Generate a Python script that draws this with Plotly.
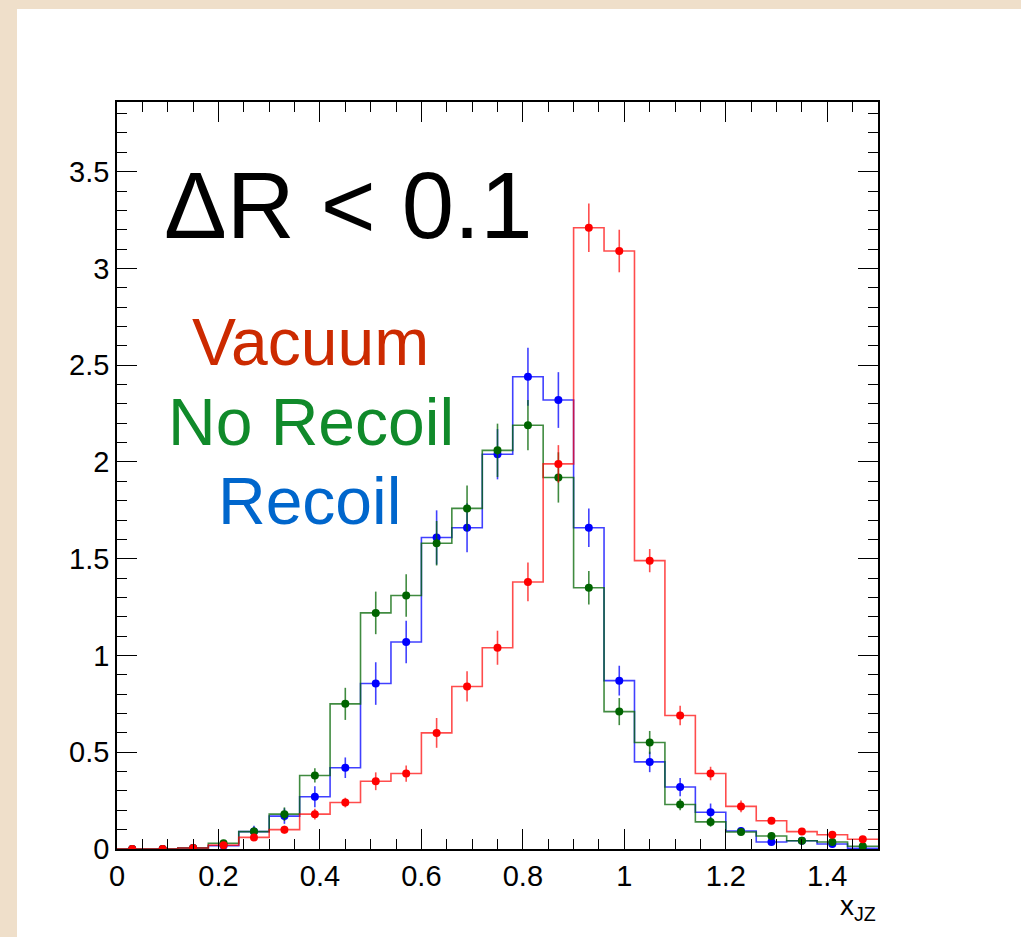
import plotly.graph_objects as go

# ---- data ----
bin_low = 0.0
bin_width = 0.06
n_bins = 25

vacuum = [0.0, 0.0, 0.005, 0.02, 0.06, 0.10, 0.18, 0.24, 0.35, 0.39, 0.60, 0.84, 1.04,
          1.38, 1.99, 3.21, 3.09, 1.49, 0.69, 0.39, 0.22, 0.146, 0.09, 0.074, 0.05]
vacuum_err = [0, 0, 0.004, 0.008, 0.015, 0.02, 0.028, 0.025, 0.046, 0.042, 0.077, 0.078, 0.088,
              0.10, 0.097, 0.125, 0.11, 0.06, 0.05, 0.035, 0.03, 0.015, 0.012, 0.01, 0.01]

recoil = [0.0, 0.0, 0.005, 0.017, 0.09, 0.17, 0.27, 0.42, 0.855, 1.07, 1.61, 1.66, 2.04,
          2.44, 2.32, 1.66, 0.87, 0.45, 0.32, 0.19, 0.093, 0.036, 0.043, 0.026, 0.004]
recoil_err = [0, 0, 0.004, 0.01, 0.03, 0.04, 0.054, 0.053, 0.11, 0.11, 0.14, 0.127, 0.13,
              0.15, 0.144, 0.10, 0.077, 0.053, 0.047, 0.045, 0.02, 0.015, 0.015, 0.012, 0.006]

norecoil = [0.0, 0.0, 0.005, 0.03, 0.09, 0.18, 0.38, 0.75, 1.22, 1.31, 1.58, 1.76, 2.06,
            2.19, 1.92, 1.35, 0.71, 0.55, 0.23, 0.14, 0.088, 0.067, 0.043, 0.036, 0.014]
norecoil_err = [0, 0, 0.004, 0.01, 0.025, 0.035, 0.037, 0.083, 0.11, 0.11, 0.115, 0.118, 0.138,
                0.13, 0.13, 0.086, 0.07, 0.06, 0.03, 0.025, 0.015, 0.012, 0.01, 0.01, 0.008]

x_ticks = [0, 0.2, 0.4, 0.6, 0.8, 1.0, 1.2, 1.4]
x_ticklabels = ["0", "0.2", "0.4", "0.6", "0.8", "1", "1.2", "1.4"]
y_ticks = [0, 0.5, 1, 1.5, 2, 2.5, 3, 3.5]
y_ticklabels = ["0", "0.5", "1", "1.5", "2", "2.5", "3", "3.5"]

# ---- derived bins ----
edges = [bin_low + i * bin_width for i in range(n_bins + 1)]
centers = [bin_low + (i + 0.5) * bin_width for i in range(n_bins)]

series = [
    ("Recoil", recoil, recoil_err, "rgba(0,0,255,0.75)", "#0000ff"),
    ("No Recoil", norecoil, norecoil_err, "rgba(0,100,0,0.75)", "#006400"),
    ("Vacuum", vacuum, vacuum_err, "rgba(255,0,0,0.7)", "#ff0000"),
]

fig = go.Figure()
for name, vals, errs, lcol, mcol in series:
    fig.add_trace(go.Scatter(
        x=edges, y=list(vals) + [vals[-1]], mode="lines", line_shape="hv",
        line=dict(color=lcol, width=1.6), showlegend=False, hoverinfo="skip"))
    fig.add_trace(go.Scatter(
        x=centers, y=vals, mode="markers", name=name,
        marker=dict(color=mcol, size=8, symbol="circle"),
        error_y=dict(type="data", array=errs, visible=True, width=0,
                     thickness=1.6, color=lcol),
        showlegend=False))

# plot area in pixels: x 117..878, y 102..849
L, R, T, B = 117, 878, 102, 849
W, H = 1021, 937
pw, ph = R - L, B - T

def px2paper_x(px):
    return (px - L) / pw

def px2paper_y(py):
    return (B - py) / ph

# white panel over beige background
fig.add_shape(type="rect", xref="paper", yref="paper",
              x0=px2paper_x(17), x1=px2paper_x(W + 5),
              y0=px2paper_y(H + 5), y1=px2paper_y(9),
              fillcolor="white", line=dict(width=0), layer="below")

big_font = "Liberation Sans, Arial, Helvetica, sans-serif"
fig.add_annotation(x=px2paper_x(348), y=px2paper_y(205), xref="paper", yref="paper",
                   text="ΔR &lt; 0.1", showarrow=False, xanchor="center", yanchor="middle",
                   font=dict(family=big_font, size=94, color="black"))
fig.add_annotation(x=px2paper_x(310), y=px2paper_y(342), xref="paper", yref="paper",
                   text="Vacuum", showarrow=False, xanchor="center", yanchor="middle",
                   font=dict(family=big_font, size=66, color="#cc2a00"))
fig.add_annotation(x=px2paper_x(311), y=px2paper_y(422), xref="paper", yref="paper",
                   text="No Recoil", showarrow=False, xanchor="center", yanchor="middle",
                   font=dict(family=big_font, size=66, color="#108a2a"))
fig.add_annotation(x=px2paper_x(309), y=px2paper_y(501), xref="paper", yref="paper",
                   text="Recoil", showarrow=False, xanchor="center", yanchor="middle",
                   font=dict(family=big_font, size=66, color="#0066cc"))
fig.add_annotation(x=1.0, y=px2paper_y(888), xref="paper", yref="paper",
                   text="x<sub>JZ</sub>", showarrow=False, xanchor="right", yanchor="top",
                   font=dict(family=big_font, size=28, color="black"))

tick_font = dict(family=big_font, size=29, color="black")
fig.update_xaxes(range=[0, 1.5], showgrid=False, zeroline=False,
                 showline=True, linecolor="black", linewidth=1.5, mirror="allticks",
                 ticks="inside", ticklen=20, tickwidth=1.2, tickcolor="black",
                 tickvals=x_ticks, ticktext=x_ticklabels, tickfont=tick_font,
                 minor=dict(dtick=0.05, tick0=0, ticks="inside", ticklen=10,
                            tickwidth=1.2, tickcolor="black", showgrid=False))
fig.update_yaxes(range=[0, 3.86], showgrid=False, zeroline=False,
                 showline=True, linecolor="black", linewidth=1.5, mirror="allticks",
                 ticks="inside", ticklen=20, tickwidth=1.2, tickcolor="black",
                 tickvals=y_ticks, ticktext=y_ticklabels, tickfont=tick_font,
                 minor=dict(dtick=0.1, tick0=0, ticks="inside", ticklen=10,
                            tickwidth=1.2, tickcolor="black", showgrid=False))

fig.update_layout(
    width=W, height=H, autosize=False,
    margin=dict(l=L, r=W - R, t=T, b=H - B, pad=0),
    paper_bgcolor="#efdfca", plot_bgcolor="white",
    showlegend=False,
)

fig.write_html("out.html")
